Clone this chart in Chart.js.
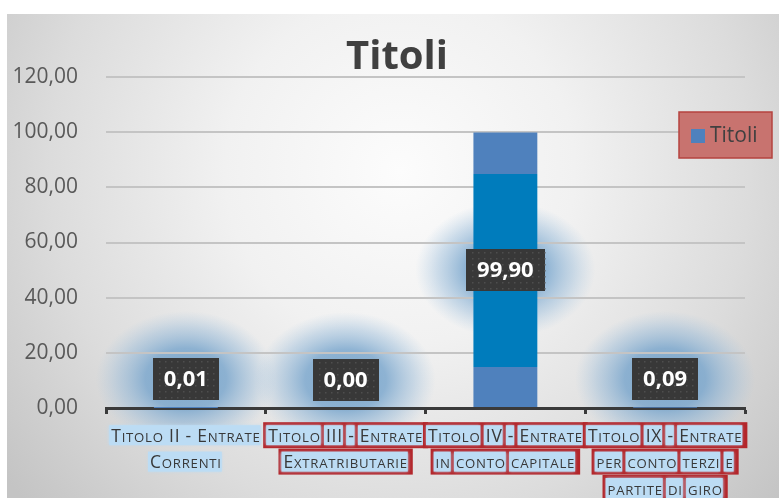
<!DOCTYPE html>
<html><head><meta charset="utf-8">
<script src="https://cdn.jsdelivr.net/npm/chart.js@4"></script>
<style>html,body{margin:0;padding:0;background:#fff}#wrap{width:779px;height:498px;position:relative}</style>
</head><body><div id="wrap"><canvas id="c" width="779" height="498"></canvas></div>
<script>
const categories = [
  ["Titolo II - Entrate", "Correnti"],
  ["Titolo III - Entrate", "Extratributarie"],
  ["Titolo IV - Entrate", "in conto capitale"],
  ["Titolo IX - Entrate", "per conto terzi e", "partite di giro"]
];
const seriesName = "Titoli";
const chartTitle = "Titoli";
const values = [0.01, 0.00, 99.90, 0.09];
const yTicks = [0, 20, 40, 60, 80, 100, 120];
const redBoxed = [false, true, true, true];

const fmt = v => Number(v).toFixed(2).replace('.', ',');
const FONT = "'Open Sans', 'DejaVu Sans', sans-serif";
const XBIG = "17.5px " + FONT;
const XSMALL = "13.2px " + FONT;
const XSPACING = '0.75px';

function labelY(bar) { return Math.min((bar.y + bar.base) / 2, bar.base - 28); }

// manual small caps: lowercase runs drawn as smaller capitals
function scRuns(text) {
  return (text.match(/[a-zà-ù]+|[^a-zà-ù]+/g) || []).map(s => {
    const small = /[a-zà-ù]/.test(s);
    return { t: small ? s.toUpperCase() : s, font: small ? XSMALL : XBIG };
  });
}
function scWidth(ctx, text) {
  let w = 0;
  scRuns(text).forEach(r => { ctx.font = r.font; w += ctx.measureText(r.t).width; });
  return w;
}
function scDraw(ctx, text, x, y) {
  scRuns(text).forEach(r => { ctx.font = r.font; ctx.fillText(r.t, x, y); x += ctx.measureText(r.t).width; });
}

const bgPlugin = {
  id: 'bg',
  beforeDraw(chart) {
    const ctx = chart.ctx;
    ctx.save();
    ctx.fillStyle = '#ffffff';
    ctx.fillRect(0, 0, chart.width, chart.height);
    const g = ctx.createRadialGradient(400, 170, 0, 400, 170, 500);
    g.addColorStop(0, '#fcfcfc');
    g.addColorStop(0.35, '#f1f1f1');
    g.addColorStop(0.7, '#dcdcdc');
    g.addColorStop(1, '#c4c4c4');
    ctx.fillStyle = g;
    ctx.fillRect(7, 14, chart.width - 7, chart.height - 14);

    // title
    ctx.fillStyle = '#404040';
    ctx.font = "bold 40px " + FONT;
    ctx.textAlign = 'center';
    ctx.textBaseline = 'middle';
    ctx.fillText(chartTitle, 397, 58);

    // glows behind data labels
    const meta = chart.getDatasetMeta(0);
    meta.data.forEach((bar) => {
      const cy = labelY(bar);
      ctx.save();
      ctx.translate(bar.x, cy);
      ctx.scale(1, 68 / 90);
      const rg = ctx.createRadialGradient(0, 0, 0, 0, 0, 90);
      rg.addColorStop(0, 'rgba(112,160,200,0.9)');
      rg.addColorStop(0.45, 'rgba(118,164,204,0.8)');
      rg.addColorStop(0.75, 'rgba(140,180,215,0.4)');
      rg.addColorStop(1, 'rgba(160,195,225,0)');
      ctx.fillStyle = rg;
      ctx.beginPath();
      ctx.arc(0, 0, 90, 0, Math.PI * 2);
      ctx.fill();
      ctx.restore();
    });

    // x labels: highlight boxes + text
    const xs = chart.scales.x;
    const items = xs.getLabelItems();
    ctx.letterSpacing = XSPACING;
    ctx.textAlign = 'left';
    ctx.textBaseline = 'alphabetic';
    items.forEach((it, idx) => {
      const lines = Array.isArray(it.label) ? it.label : [it.label];
      const lh = it.font.lineHeight;
      const [x, y] = it.options.translation;
      lines.forEach((line, j) => {
        const cy = y + it.textOffset + j * lh;
        const w = scWidth(ctx, line);
        const x0 = x - w / 2;
        ctx.save();
        if (redBoxed[idx]) {
          ctx.fillStyle = '#b3262b';
          ctx.fillRect(x0 - 5, cy - 13, w + 10, 26);
          ctx.fillStyle = '#bcdcf4';
          ctx.shadowColor = '#bcdcf4';
          ctx.shadowBlur = 3;
          const words = line.split(' ');
          words.forEach((wd, k) => {
            const pre = k > 0 ? words.slice(0, k).join(' ') + ' ' : '';
            const px = x0 + (pre ? scWidth(ctx, pre) : 0);
            const ww = scWidth(ctx, wd);
            ctx.fillRect(px - 2, cy - 10, ww + 2, 20);
          });
        } else {
          ctx.fillStyle = '#bcdcf4';
          ctx.shadowColor = '#bcdcf4';
          ctx.shadowBlur = 3;
          ctx.fillRect(x0 - 2, cy - 10, w + 2, 20);
        }
        ctx.restore();
        ctx.fillStyle = '#383838';
        scDraw(ctx, line, x0, cy + 6.5);
      });
    });
    ctx.letterSpacing = '0px';
    ctx.restore();
  }
};

const labelPlugin = {
  id: 'dlabels',
  afterDatasetsDraw(chart) {
    const ctx = chart.ctx;
    const meta = chart.getDatasetMeta(0);
    ctx.save();
    ctx.font = "bold 22px " + FONT;
    meta.data.forEach((bar, i) => {
      const txt = fmt(values[i]);
      const cx = bar.x;
      const cy = labelY(bar);
      const w = Math.round(ctx.measureText(txt).width + 22);
      const h = 42;
      const bx = Math.round(cx - w / 2), by = Math.round(cy - h / 2);
      ctx.fillStyle = '#383838';
      ctx.fillRect(bx, by, w, h);
      ctx.fillStyle = '#4e4e4e';
      for (let yy = by + 3; yy < by + h; yy += 6) {
        for (let xx = bx + 3 + ((yy - by) % 12 ? 3 : 0); xx < bx + w; xx += 6) {
          ctx.fillRect(xx, yy, 1.5, 1.5);
        }
      }
      ctx.fillStyle = '#ffffff';
      ctx.textAlign = 'center';
      ctx.textBaseline = 'middle';
      ctx.fillText(txt, cx, cy + 1);
    });
    ctx.restore();
  },
  afterDraw(chart) {
    const ctx = chart.ctx;
    ctx.save();
    ctx.fillStyle = '#c8736f';
    ctx.fillRect(679, 112, 93, 46);
    ctx.strokeStyle = '#b5433f';
    ctx.lineWidth = 1.5;
    ctx.strokeRect(679, 112, 93, 46);
    ctx.fillStyle = '#4f81bd';
    ctx.fillRect(691, 129, 14, 14);
    ctx.fillStyle = '#404040';
    ctx.font = "21px " + FONT;
    ctx.textAlign = 'left';
    ctx.textBaseline = 'middle';
    ctx.fillText(seriesName, 710, 136);
    ctx.restore();
  }
};

function barFill(c) {
  const chart = c.chart;
  const ys = chart.scales && chart.scales.y;
  if (!ys || c.dataIndex === undefined) return '#4f81bd';
  const top = ys.getPixelForValue(values[c.dataIndex]);
  const base = ys.getPixelForValue(0);
  if (!isFinite(top) || base - top < 2) return '#4f81bd';
  const g = chart.ctx.createLinearGradient(0, top, 0, base);
  g.addColorStop(0, '#4f81bd');
  g.addColorStop(0.152, '#4f81bd');
  g.addColorStop(0.152, '#007cbc');
  g.addColorStop(0.851, '#007cbc');
  g.addColorStop(0.851, '#4f81bd');
  g.addColorStop(1, '#4f81bd');
  return g;
}

new Chart(document.getElementById('c'), {
  type: 'bar',
  data: {
    labels: categories,
    datasets: [{
      label: seriesName,
      data: values,
      backgroundColor: barFill,
      categoryPercentage: 1,
      barPercentage: 0.4
    }]
  },
  plugins: [bgPlugin, labelPlugin],
  options: {
    responsive: false,
    animation: false,
    layout: { padding: { left: 12, right: 34, top: 77, bottom: 0 } },
    plugins: {
      legend: { display: false },
      tooltip: { enabled: false },
      title: { display: false }
    },
    scales: {
      x: {
        afterFit: s => { s.height = 90; },
        grid: { display: true, drawOnChartArea: false, drawTicks: true, tickLength: 6, tickWidth: 3, tickColor: '#3a3a3a', offset: true },
        border: { display: true, color: '#3a3a3a', width: 3 },
        ticks: {
          color: 'rgba(0,0,0,0)',
          font: { family: FONT, size: 16.5, lineHeight: 1.6 },
          padding: 8, maxRotation: 0, minRotation: 0, autoSkip: false
        }
      },
      y: {
        min: 0, max: 120,
        afterFit: s => { s.width = 94; },
        afterBuildTicks: s => { s.ticks = yTicks.map(v => ({ value: v })); },
        ticks: { callback: v => fmt(v), color: '#595959', font: { family: FONT, size: 21 }, padding: 28 },
        grid: { color: '#c4c4c4', lineWidth: 2, drawTicks: false },
        border: { display: false }
      }
    }
  }
});
</script>
</body></html>
